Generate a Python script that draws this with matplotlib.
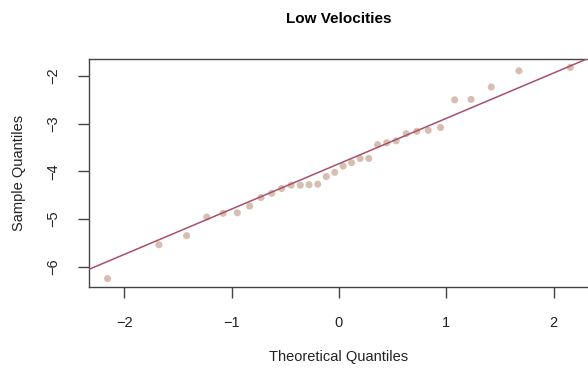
import numpy as np
import matplotlib
matplotlib.use("Agg")
import matplotlib.pyplot as plt

plt.rcParams["font.family"] = ["Liberation Sans", "DejaVu Sans"]

# theoretical normal quantiles (n = 32)
theoretical = [-2.154, -1.676, -1.418, -1.230, -1.078, -0.946, -0.831, -0.725,
               -0.626, -0.533, -0.445, -0.360, -0.278, -0.197, -0.118, -0.039,
               0.039, 0.118, 0.197, 0.278, 0.360, 0.445, 0.533, 0.626,
               0.725, 0.831, 0.946, 1.078, 1.230, 1.418, 1.676, 2.154]
# sample quantiles
sample = [-6.25, -5.54, -5.35, -4.96, -4.88, -4.87, -4.73, -4.55,
          -4.46, -4.36, -4.29, -4.29, -4.28, -4.27, -4.11, -4.02,
          -3.89, -3.82, -3.73, -3.73, -3.44, -3.40, -3.36, -3.21,
          -3.16, -3.14, -3.08, -2.50, -2.49, -2.23, -1.89, -1.82]

x = np.array(theoretical)
y = np.array(sample)

# qqline: through the 1st and 3rd quartiles
q1, q3 = np.percentile(y, [25, 75])
z = 0.6745
slope = (q3 - q1) / (2 * z)
intercept = (q1 + q3) / 2

fig = plt.figure(figsize=(5.88, 3.74), dpi=100)
ax = fig.add_axes([0.1514, 0.2326, 0.85, 0.6096])

ax.scatter(x, y, s=26, color="#d8beb0", edgecolors="none", zorder=2)
ax.axline((0, intercept), slope=slope, color="#a8506a", lw=1.1, zorder=3)

pad_x = 0.04 * (x.max() - x.min())
pad_y = 0.04 * (y.max() - y.min())
ax.set_xlim(x.min() - pad_x, x.max() + pad_x)
ax.set_ylim(y.min() - pad_y, y.max() + pad_y)

ax.set_xticks([-2, -1, 0, 1, 2])
ax.set_yticks([-6, -5, -4, -3, -2])
ax.set_xticklabels(["\u22122", "\u22121", "0", "1", "2"])
ax.set_yticklabels(["\u22126", "\u22125", "\u22124", "\u22123", "\u22122"],
                   rotation=90, va="center")

for side in ax.spines.values():
    side.set_color("#444444")
    side.set_linewidth(1.0)
ax.tick_params(direction="out", length=8, width=1, color="#444444",
               labelsize=10.5, labelcolor="#222222")
ax.tick_params(axis="x", pad=13)
ax.tick_params(axis="y", pad=13)

ax.set_title("Low Velocities", fontsize=11, fontweight="bold", pad=26)
ax.set_xlabel("Theoretical Quantiles", fontsize=10.5, labelpad=14, color="#222222")
ax.set_ylabel("Sample Quantiles", fontsize=10.5, labelpad=14, color="#222222")

fig.savefig("out.png", dpi=100)
